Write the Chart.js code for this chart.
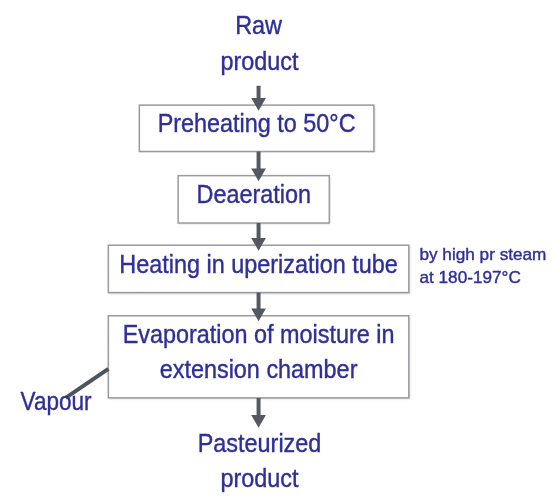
<!DOCTYPE html>
<html>
<head>
<meta charset="utf-8">
<script src="https://cdn.jsdelivr.net/npm/chart.js@4"></script>
<style>
  body { margin: 0; background: #fff; }
  canvas { display: block; }
</style>
</head>
<body>
<canvas id="flow" width="553" height="503"></canvas>
<script>
// flow steps (boxes), in page units of the 553x503 diagram
const stepLabels = [
  ['Preheating to 50°C'],
  ['Deaeration'],
  ['Heating in uperization tube'],
  ['Evaporation of moisture in', 'extension chamber'],
]
const stepLeft   = [135, 175, 103, 103]
const stepRight  = [377, 331, 413, 413]
const stepTop    = [100, 173, 245, 318]
const stepBottom = [148, 222, 294, 403]

// vertical arrows down the middle
const arrowX    = 258
const arrowFrom = [80, 148, 222, 294, 403]
const arrowTo   = [100, 173, 245, 318, 428]

// loose text
const noteText = ['Raw', 'product', 'Pasteurized', 'product', 'Vapour', 'by high pr steam', 'at 180-197°C']
const noteX    = [258, 259, 259, 259, 49, 424, 424]
const noteY    = [22, 59, 455, 491, 412, 258, 281]

// vapour outlet line
const vapourX = [103, 59]
const vapourY = [373, 403]

const TEXT = '#2f2f98'
const FONT = '"Liberation Sans", Arial, sans-serif'

const arrowSets = arrowFrom.map((y0, i) => ({
  type: 'line',
  data: [{ x: arrowX, y: y0 }, { x: arrowX, y: arrowTo[i] - 3 }],
  borderColor: '#535963',
  backgroundColor: '#535963',
  borderWidth: 4,
  pointRadius: [0, 4.5],
  pointStyle: 'triangle',
  rotation: 180,
  fill: false,
}))

const vapourSet = {
  type: 'line',
  data: vapourX.map((x, i) => ({ x, y: vapourY[i] })),
  borderColor: '#4a5560',
  borderWidth: 4,
  pointRadius: 0,
  fill: false,
}

function drawText(ctx, str, px, py, size, align, squeeze) {
  ctx.save()
  ctx.font = `${size}px ${FONT}`
  ctx.fillStyle = TEXT
  ctx.strokeStyle = TEXT
  ctx.lineWidth = 0.4
  ctx.textBaseline = 'middle'
  ctx.textAlign = align
  ctx.translate(px, py - size * 0.12)
  ctx.scale(squeeze, 1)
  ctx.fillText(str, 0, 0)
  ctx.strokeText(str, 0, 0)
  ctx.restore()
}

const boxesPlugin = {
  id: 'boxes',
  beforeDatasetsDraw(chart) {
    const { ctx, scales: { x, y } } = chart
    stepLabels.forEach((lines, i) => {
      const l = x.getPixelForValue(stepLeft[i])
      const r = x.getPixelForValue(stepRight[i])
      const t = y.getPixelForValue(stepTop[i])
      const b = y.getPixelForValue(stepBottom[i])
      ctx.save()
      ctx.fillStyle = '#ffffff'
      ctx.shadowColor = 'rgba(0,0,0,0.18)'
      ctx.shadowBlur = 2
      ctx.shadowOffsetX = 1
      ctx.shadowOffsetY = 1
      ctx.fillRect(l, t, r - l, b - t)
      ctx.restore()
      ctx.save()
      ctx.strokeStyle = '#9a9aa2'
      ctx.lineWidth = 1.5
      ctx.strokeRect(l, t, r - l, b - t)
      ctx.restore()
      const cx = (l + r) / 2
      const cy = (t + b) / 2
      const gap = 35
      lines.forEach((s, k) => {
        drawText(ctx, s, cx, cy + (k - (lines.length - 1) / 2) * gap, 26, 'center', 0.9)
      })
    })
  },
  afterDatasetsDraw(chart) {
    const { ctx, scales: { x, y } } = chart
    noteText.forEach((s, i) => {
      const side = i >= 5
      const size = side ? 17 : (i === 4 ? 25 : 26)
      drawText(ctx, s, x.getPixelForValue(noteX[i]), y.getPixelForValue(noteY[i]),
        size, side ? 'left' : 'center', side ? 1.01 : 0.9)
    })
  },
}

new Chart(document.getElementById('flow'), {
  type: 'scatter',
  data: { datasets: [...arrowSets, vapourSet] },
  options: {
    responsive: false,
    animation: false,
    events: [],
    layout: { padding: 0 },
    plugins: { legend: { display: false }, tooltip: { enabled: false } },
    scales: {
      x: { type: 'linear', min: 0, max: 553, display: false },
      y: { type: 'linear', min: 0, max: 503, reverse: true, display: false },
    },
  },
  plugins: [boxesPlugin],
})
</script>
</body>
</html>
